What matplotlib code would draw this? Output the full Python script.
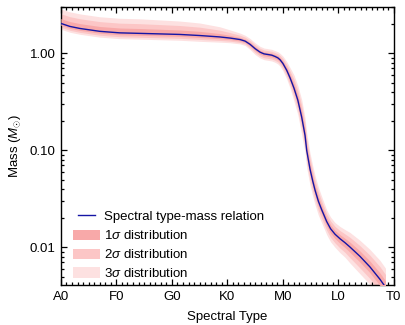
#!/usr/bin/env python3
"""Spectral type - mass relation with 1/2/3 sigma bands."""

import matplotlib

matplotlib.use("Agg")
import matplotlib.pyplot as plt
import numpy as np
from matplotlib.legend_handler import HandlerLine2D
from matplotlib.ticker import FixedLocator, FormatStrFormatter, LogLocator, MultipleLocator, NullFormatter

# spectral type index: A0=0, F0=10, G0=20, K0=30, M0=40, L0=50, T0=60
spt = [0.0, 1.6, 3.4, 7.0, 10.6, 14.2, 17.8, 21.4, 25.0, 28.6, 30.5, 32.3, 33.2, 34.1,
       35.0, 35.9, 36.6, 37.3, 38.0, 38.6, 39.1, 39.5, 40.0, 40.7, 41.3, 42.0, 42.7, 43.4,
       44.0, 44.3, 44.9, 45.4, 45.8, 46.4, 47.0, 47.9, 48.6, 49.4, 50.3, 51.2, 52.1, 53.9,
       55.7, 57.5, 58.5]
mass = [2.04, 1.90, 1.81, 1.69, 1.63, 1.61, 1.59, 1.57, 1.53, 1.48, 1.44, 1.39, 1.34, 1.24,
        1.12, 1.03, 0.99, 0.975, 0.96, 0.93, 0.90, 0.86, 0.79, 0.67, 0.56, 0.44, 0.33, 0.22,
        0.143, 0.100, 0.064, 0.048, 0.039, 0.030, 0.0245, 0.0185, 0.0156, 0.0137, 0.0123, 0.0112,
        0.0101, 0.0081, 0.0063, 0.0047, 0.0039]
# 1 sigma widths in dex (above / below the relation)
sig_up = [0.050, 0.050, 0.050, 0.050, 0.050, 0.050, 0.048, 0.046, 0.043, 0.035, 0.028, 0.022,
          0.020, 0.020, 0.020, 0.020, 0.020, 0.020, 0.020, 0.020, 0.021, 0.022, 0.025, 0.030,
          0.035, 0.045, 0.050, 0.060, 0.060, 0.060, 0.055, 0.052, 0.050, 0.048, 0.045, 0.040,
          0.040, 0.040, 0.042, 0.045, 0.050, 0.055, 0.060, 0.065, 0.065]
sig_lo = [0.020, 0.020, 0.020, 0.020, 0.020, 0.020, 0.020, 0.020, 0.020, 0.018, 0.016, 0.015,
          0.015, 0.018, 0.020, 0.020, 0.020, 0.020, 0.020, 0.020, 0.021, 0.022, 0.025, 0.030,
          0.035, 0.045, 0.050, 0.060, 0.060, 0.060, 0.055, 0.052, 0.050, 0.048, 0.045, 0.045,
          0.045, 0.045, 0.048, 0.050, 0.055, 0.060, 0.060, 0.065, 0.065]

tick_pos = [0, 10, 20, 30, 40, 50, 60]
tick_labels = ["A0", "F0", "G0", "K0", "M0", "L0", "T0"]

band_colors = {3: "#fde1e1", 2: "#fcc6c6", 1: "#f8a9a9"}


class ShortLineHandler(HandlerLine2D):
    """Legend line drawn a bit shorter than the patch handles."""

    def create_artists(self, legend, orig_handle, xdescent, ydescent, width, height, fontsize, trans):
        pad = width * 0.18
        return super().create_artists(legend, orig_handle, xdescent - pad, ydescent,
                                      width - 2 * pad, height, fontsize, trans)


plt.rcParams["font.family"] = ["Liberation Sans", "DejaVu Sans"]
plt.rcParams["mathtext.fontset"] = "custom"
plt.rcParams["mathtext.it"] = "Liberation Sans:italic"
plt.rcParams["mathtext.rm"] = "Liberation Sans"

fig = plt.figure(figsize=(4.06, 3.25), dpi=100)
ax = fig.add_axes([0.150, 0.123, 0.820, 0.855])

x = np.array(spt)
m = np.array(mass)
su = np.array(sig_up)
sl = np.array(sig_lo)

for k in (3, 2, 1):
    ax.fill_between(x, m * 10 ** (k * su), m / 10 ** (k * sl), color=band_colors[k],
                    lw=0, label=rf"{k}$\sigma$ distribution", zorder=4 - k)
(rel_line,) = ax.plot(x, m, color="#1515a5", lw=1.0, label="Spectral type-mass relation", zorder=5)

ax.set_yscale("log")
ax.set_xlim(0, 60)
ax.set_ylim(0.0041, 3.0)

ax.xaxis.set_major_locator(FixedLocator(tick_pos))
ax.set_xticklabels(tick_labels)
ax.xaxis.set_minor_locator(MultipleLocator(1))
ax.yaxis.set_major_locator(FixedLocator([0.01, 0.1, 1.0]))
ax.yaxis.set_major_formatter(FormatStrFormatter("%.2f"))
ax.yaxis.set_minor_locator(LogLocator(base=10, subs=np.arange(2, 10)))
ax.yaxis.set_minor_formatter(NullFormatter())

ax.tick_params(which="both", direction="in", top=True, right=True, labelsize=9.5, width=0.9)
ax.tick_params(which="major", length=4.5, pad=4)
ax.tick_params(which="minor", length=2.2)
for s in ax.spines.values():
    s.set_linewidth(1.0)

ax.set_xlabel("Spectral Type", fontsize=9.5, labelpad=6)
ax.set_ylabel(r"Mass ($M_{\odot}$)", fontsize=9.5, labelpad=5)

handles, labels = ax.get_legend_handles_labels()
order = [3, 2, 1, 0]
ax.legend([handles[i] for i in order], [labels[i] for i in order], loc="lower left",
          bbox_to_anchor=(0.0, -0.025), frameon=False, fontsize=9.5, handlelength=2.1,
          handleheight=0.8, handletextpad=0.3, labelspacing=0.45,
          handler_map={rel_line: ShortLineHandler()})

fig.savefig("out.png", dpi=100)
